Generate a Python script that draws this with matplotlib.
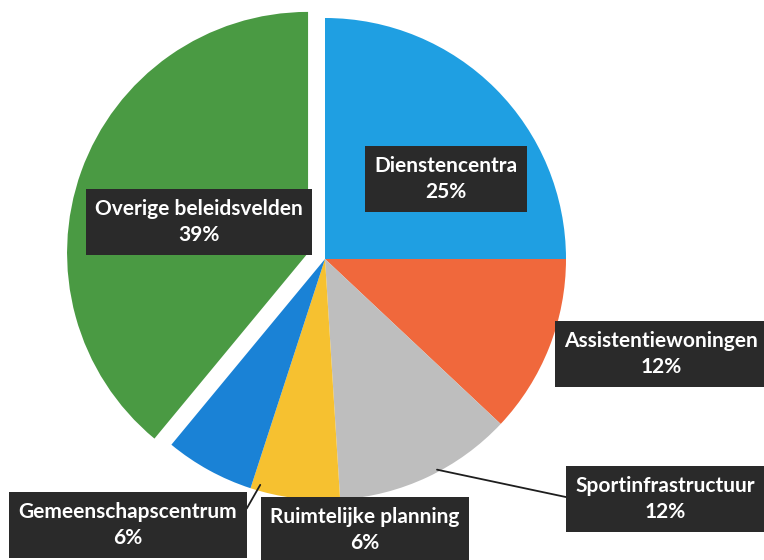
import numpy as np
import matplotlib.pyplot as plt

# share of the budget per policy field
labels = ['Dienstencentra', 'Assistentiewoningen', 'Sportinfrastructuur',
          'Ruimtelijke planning', 'Gemeenschapscentrum', 'Overige beleidsvelden']
values = [25, 12, 12, 6, 6, 39]

colors = ['#1f9fe2', '#f0683c', '#bebebe', '#f6c130', '#1a82d6', '#4a9a43']
explode = [0, 0, 0, 0, 0, 18]

# label box centres in pixel coordinates (y measured from the top)
label_pos = [(446, 179), (661, 354), (665, 499), (365, 530), (128, 525), (199, 222)]
# leader lines: (angle in degrees, fraction of radius, relpos on box) or None
leaders = [None, None, (-62, 0.99, (0, 0.5)), None, (-106, 0.975, (1, 0.5)), None]

W, H = 764, 560
cx, cy, R = 325, H - 259, 241

fig = plt.figure(figsize=(W / 100, H / 100), dpi=100)
fig.patch.set_facecolor('white')
ax = fig.add_axes([0, 0, 1, 1])

ax.pie(values, colors=colors, explode=explode, startangle=90, counterclock=False,
       center=(cx, cy), radius=R, frame=True,
       wedgeprops=dict(edgecolor='none'))
ax.set_xlim(0, W)
ax.set_ylim(0, H)
ax.set_aspect('equal')
ax.axis('off')

for lab, val, (px, py), ld in zip(labels, values, label_pos, leaders):
    txt = f'{lab}\n{val}%'
    box = dict(boxstyle='square,pad=0.45', facecolor='#2a2a2a', edgecolor='none')
    style = dict(ha='center', va='center', color='white', fontsize=15,
                 fontweight='bold', family=['Lato', 'DejaVu Sans'],
                 linespacing=1.4, bbox=box, zorder=5)
    if ld is None:
        ax.text(px, H - py, txt, **style)
    else:
        ang, frac, rp = ld
        t = np.deg2rad(ang)
        xy = (cx + frac * R * np.cos(t), cy + frac * R * np.sin(t))
        ax.annotate(txt, xy=xy, xytext=(px, H - py),
                    arrowprops=dict(arrowstyle='-', color='#1e1e1e', lw=1.3,
                                    relpos=rp, shrinkA=0, shrinkB=0),
                    **style)

fig.savefig('out.png', dpi=100, facecolor='white')
